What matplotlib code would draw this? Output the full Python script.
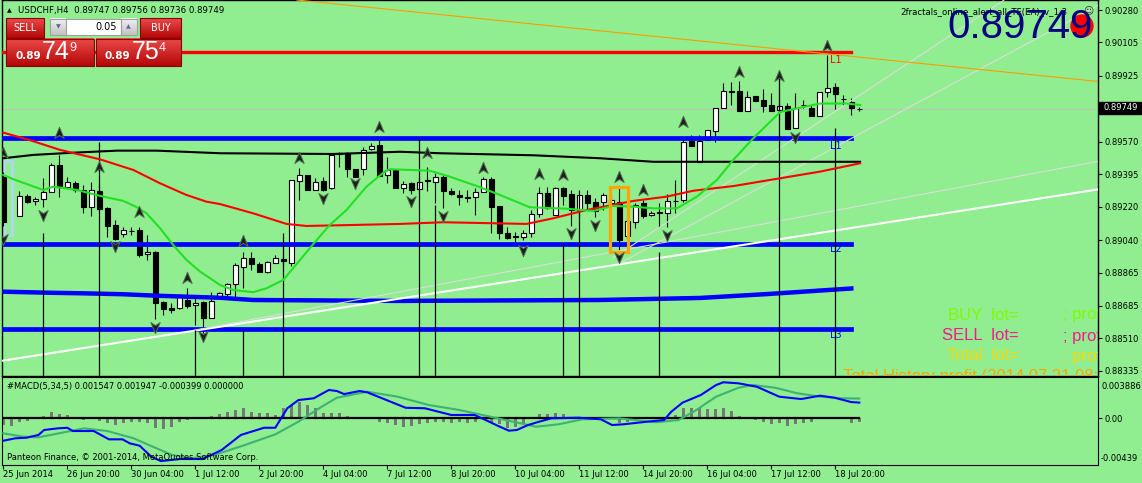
import numpy as np
import matplotlib.pyplot as plt
from matplotlib.patches import Rectangle, Circle
from matplotlib.path import Path
from matplotlib.colors import LinearSegmentedColormap

plt.rcParams['font.family'] = ['DejaVu Sans']

# ---------------- USDCHF H4 candles (bar 0 = 25 Jun 12:00) ----------------
nan = float('nan')
opens = [0.89382, nan, 0.89171, 0.89278, 0.89249, 0.89263, 0.89301, 0.89445, 0.89328, 0.89349,
         0.89310, 0.89220, 0.89306, 0.89215, 0.89121, 0.89074, 0.89091, 0.89094, 0.88963, 0.88976,
         0.88708, 0.88672, 0.88672, 0.88717, 0.88690, 0.88708, 0.88622, 0.88735, 0.88749, 0.88803,
         0.88897, 0.88942, 0.88911, 0.88870, 0.88918, 0.88940, 0.88915, 0.89360, 0.89391, 0.89310,
         0.89358, 0.89318, 0.89504, 0.89508, 0.89422, 0.89423, 0.89529, 0.89552, 0.89391, 0.89418,
         0.89319, 0.89349, 0.89314, 0.89362, 0.89355, 0.89382, 0.89306, 0.89283, 0.89274, 0.89271,
         0.89301, 0.89368, 0.89224, 0.89077, 0.89062, 0.89058, 0.89077, 0.89181, 0.89292, 0.89175,
         0.89319, 0.89288, 0.89202, 0.89283, 0.89244, 0.89247, 0.89240, 0.89247, 0.89062, 0.89139,
         0.89238, 0.89174, 0.89193, 0.89188, 0.89253, 0.89256, 0.89574, 0.89462, 0.89579, 0.89630,
         0.89750, 0.89841, 0.89844, 0.89736, 0.89817, 0.89795, 0.89768, 0.89741, 0.89764, 0.89643,
         0.89767, 0.89750, 0.89709, 0.89840, 0.89864, 0.89800, 0.89786, 0.89747]
highs = [0.89407, nan, 0.89305, 0.89288, 0.89274, 0.89373, 0.89454, 0.89499, 0.89382, 0.89358,
         0.89337, 0.89355, 0.89350, 0.89218, 0.89148, 0.89112, 0.89109, 0.89112, 0.89067, 0.88981,
         0.88712, 0.88699, 0.88749, 0.88780, 0.88739, 0.88712, 0.88762, 0.88760, 0.88810, 0.88915,
         0.88977, 0.88977, 0.88922, 0.88927, 0.88960, 0.88977, 0.89364, 0.89427, 0.89391, 0.89372,
         0.89378, 0.89499, 0.89515, 0.89515, 0.89423, 0.89543, 0.89562, 0.89579, 0.89488, 0.89418,
         0.89358, 0.89355, 0.89373, 0.89434, 0.89400, 0.89391, 0.89319, 0.89310, 0.89310, 0.89319,
         0.89378, 0.89378, 0.89224, 0.89112, 0.89085, 0.89094, 0.89202, 0.89328, 0.89328, 0.89328,
         0.89328, 0.89310, 0.89283, 0.89310, 0.89267, 0.89292, 0.89283, 0.89323, 0.89154, 0.89238,
         0.89256, 0.89197, 0.89238, 0.89288, 0.89364, 0.89597, 0.89606, 0.89606, 0.89633, 0.89750,
         0.89885, 0.89894, 0.89897, 0.89844, 0.89817, 0.89853, 0.89831, 0.89865, 0.89777, 0.89831,
         0.89795, 0.89768, 0.89840, 0.90038, 0.89885, 0.89822, 0.89804, 0.89756]
lows = [0.89116, nan, 0.89170, 0.89238, 0.89229, 0.89217, 0.89299, 0.89274, 0.89326, 0.89301,
        0.89188, 0.89170, 0.89208, 0.89058, 0.89043, 0.89058, 0.89067, 0.88950, 0.88933, 0.88613,
        0.88636, 0.88649, 0.88671, 0.88672, 0.88582, 0.88538, 0.88620, 0.88733, 0.88735, 0.88735,
        0.88780, 0.88879, 0.88868, 0.88861, 0.88916, 0.88906, 0.88902, 0.89256, 0.89310, 0.89310,
        0.89306, 0.89315, 0.89436, 0.89382, 0.89380, 0.89391, 0.89528, 0.89385, 0.89348, 0.89318,
        0.89292, 0.89288, 0.89310, 0.89302, 0.89238, 0.89211, 0.89283, 0.89229, 0.89247, 0.89175,
        0.89299, 0.89077, 0.89044, 0.89046, 0.89031, 0.89040, 0.89058, 0.89166, 0.89210, 0.89175,
        0.89229, 0.89116, 0.89166, 0.89202, 0.89166, 0.89202, 0.89229, 0.88987, 0.89051, 0.89104,
        0.89159, 0.89170, 0.89112, 0.89112, 0.89184, 0.89247, 0.89547, 0.89462, 0.89579, 0.89570,
        0.89750, 0.89768, 0.89736, 0.89736, 0.89790, 0.89732, 0.89736, 0.89714, 0.89637, 0.89643,
        0.89750, 0.89709, 0.89709, 0.89813, 0.89745, 0.89768, 0.89714, 0.89736]
closes = [0.89139, nan, 0.89278, 0.89245, 0.89261, 0.89299, 0.89445, 0.89328, 0.89351, 0.89310,
          0.89220, 0.89310, 0.89209, 0.89116, 0.89046, 0.89094, 0.89089, 0.88960, 0.88976, 0.88702,
          0.88667, 0.88663, 0.88735, 0.88685, 0.88702, 0.88618, 0.88712, 0.88753, 0.88803, 0.88904,
          0.88942, 0.88911, 0.88870, 0.88920, 0.88942, 0.88929, 0.89364, 0.89391, 0.89310, 0.89353,
          0.89310, 0.89499, 0.89511, 0.89422, 0.89382, 0.89526, 0.89547, 0.89385, 0.89418, 0.89318,
          0.89341, 0.89310, 0.89353, 0.89360, 0.89378, 0.89306, 0.89288, 0.89271, 0.89268, 0.89301,
          0.89368, 0.89220, 0.89080, 0.89050, 0.89057, 0.89077, 0.89181, 0.89292, 0.89211, 0.89319,
          0.89278, 0.89202, 0.89283, 0.89241, 0.89198, 0.89283, 0.89256, 0.89040, 0.89143, 0.89229,
          0.89170, 0.89188, 0.89184, 0.89252, 0.89251, 0.89570, 0.89547, 0.89574, 0.89633, 0.89750,
          0.89844, 0.89838, 0.89736, 0.89813, 0.89790, 0.89764, 0.89736, 0.89764, 0.89637, 0.89754,
          0.89769, 0.89709, 0.89840, 0.89861, 0.89827, 0.89798, 0.89750, 0.89749]

# moving averages read at some bars
fast_ma_bar = [0, 1.25, 5, 6.25, 9.2, 12.1, 15, 16.7, 17.9, 19.6, 21.25, 22.9, 24.6, 27.1, 28.75,
               31.25, 32.9, 35, 37.1, 38.75, 40.8, 42.9, 45.4, 47.5, 48.3, 53.3, 55.8, 59.2, 62.1,
               65.8, 70.4, 73.75, 76.25, 78.75, 81.25, 84.2, 86.7, 89.2, 91.25, 93.75, 97.1, 100,
               102.1, 105.4, 107.1]
fast_ma = [0.89391, 0.89368, 0.89310, 0.89328, 0.89310, 0.89278, 0.89251, 0.89217, 0.89184, 0.89104,
           0.89013, 0.88933, 0.88870, 0.88798, 0.88771, 0.88759, 0.88780, 0.88825, 0.88933, 0.89019,
           0.89121, 0.89202, 0.89328, 0.89403, 0.89422, 0.89414, 0.89382, 0.89331, 0.89283, 0.89217,
           0.89209, 0.89197, 0.89224, 0.89220, 0.89211, 0.89211, 0.89274, 0.89364, 0.89472, 0.89589,
           0.89730, 0.89757, 0.89776, 0.89776, 0.89768]
slow_ma_bar = [0, 3.3, 7.1, 12.1, 16.25, 19.6, 22.9, 25.4, 27.1, 31.25, 35.4, 37.9, 43.3, 49.6, 55,
               65.4, 68.7, 72.9, 78.75, 82.9, 86.25, 91.25, 97.1, 102.1, 107.1]
slow_ma = [0.89619, 0.89579, 0.89526, 0.89475, 0.89418, 0.89346, 0.89283, 0.89247, 0.89234, 0.89184,
           0.89127, 0.89116, 0.89121, 0.89127, 0.89136, 0.89127, 0.89157, 0.89202, 0.89251, 0.89274,
           0.89306, 0.89331, 0.89373, 0.89409, 0.89454]
long_ma_bar = [0, 3.75, 8.75, 14.2, 19.2, 27.1, 41.25, 49.6, 54.6, 66.25, 74.6, 81.25, 91.25, 107.1]
long_ma = [0.89481, 0.89499, 0.89511, 0.89522, 0.89522, 0.89508, 0.89504, 0.89516, 0.89508, 0.89497,
           0.89481, 0.89462, 0.89462, 0.89462]

# levels and lines
red_level = 0.90054
blue_levels = [0.89589, 0.89019, 0.88559]
curve_bar = [-0.2, 5.84, 9.96, 14.96, 19.2, 27.1, 31.2, 49.6, 74.6, 87.1, 95.5, 106]
curve_price = [0.88762, 0.88756, 0.88753, 0.88748, 0.88740, 0.88729, 0.88717, 0.88712, 0.88717,
               0.88728, 0.88749, 0.88779]
white_line = [-0.2, 0.88389, 136.84, 0.89313]
grey_lines = [[24.0, 0.88555, 136.84, 0.89464],
              [76.2, 0.88943, 125.1, 0.90334],
              [77.1, 0.88916, 138.1, 0.90334]]
orange_line = [36.7, 0.90334, 136.84, 0.89895]
bid = 0.89749

# fractals
up_bar = [0, 7, 12, 17, 23, 30, 37, 47, 53, 60, 67, 70, 77, 80, 85, 92, 97, 103]
up_price = [0.89508, 0.89619, 0.89432, 0.89193, 0.88834, 0.89037, 0.89481, 0.89648, 0.89512, 0.89427,
            0.89396, 0.89391, 0.89378, 0.89310, 0.89678, 0.89948, 0.89924, 0.90086]
down_bar = [0, 5, 14, 19, 25, 40, 44, 51, 55, 65, 71, 74, 77, 83, 99]
down_price = [0.89046, 0.89175, 0.89008, 0.88570, 0.88523, 0.89265, 0.89346, 0.89252, 0.89170, 0.88987,
              0.89080, 0.89121, 0.88947, 0.89067, 0.89597]
vline_bar = [5, 12, 24, 30, 35, 52, 54, 70, 72, 82, 97, 104]
vline_top = [0.89078, 0.89570, 0.88555, 0.88555, 0.89078, 0.89590, 0.89229, 0.89024, 0.89310, 0.88976,
             0.89948, 0.89643]

# MACD(5,34,5)
macd_bar = [0, 1.5, 2.9, 4.4, 5.1, 6.8, 8.0, 8.7, 11.3, 13.2, 14.9, 15.8, 17.05, 18.5, 19.7, 22.1, 24.9,
            27.3, 29.7, 32.6, 34.0, 35.5, 36.9, 38.8, 40.7, 41.7, 42.6, 44.55, 45.5, 48.4, 50.3, 52.7,
            56.0, 58.9, 60.3, 61.8, 63.2, 64.2, 65.6, 67.0, 68.5, 71.9, 74.7, 76.1, 77.5, 79.8, 82.6,
            83.5, 84.9, 87.2, 89.1, 90.0, 91.9, 94.2, 97.0, 99.75, 102.1, 103.9, 106.0, 107]
macd = [-0.00221, -0.00197, -0.00191, -0.00164, -0.00115, -0.00099, -0.00093, -0.00125, -0.00125, -0.00207,
        -0.00207, -0.00246, -0.00270, -0.00378, -0.00421, -0.00401, -0.00401, -0.00312, -0.00164, -0.00093,
        -0.00093, 0.00099, 0.00180, 0.00197, 0.00279, 0.00269, 0.00239, 0.00269, 0.00256, 0.00164,
        0.00104, 0.00099, 0.00033, 0.00033, -0.00017, -0.00073, -0.00122, -0.00115, -0.00066, -0.00033,
        0.0, 0.00006, -0.0001, -0.00066, -0.00059, -0.00039, -0.00017, 0.00065, 0.00154, 0.00230,
        0.00328, 0.00355, 0.00345, 0.00311, 0.00213, 0.00190, 0.00223, 0.00203, 0.00160, 0.00155]
signal_bar = [0, 2.5, 4.4, 6.3, 10.1, 13.0, 16.3, 18.7, 21.1, 23.5, 26.4, 30.2, 34.0, 36.9, 39.8, 41.7,
              45.5, 49.3, 53.2, 57.0, 60.3, 63.7, 66.6, 69.4, 72.4, 77.0, 81.6, 84.4, 86.3, 89.1, 91.9,
              93.7, 96.5, 99.3, 102.1, 104.8, 107]
signal = [-0.00148, -0.00181, -0.00187, -0.00158, -0.00099, -0.00125, -0.00197, -0.00280, -0.00361, -0.00394,
          -0.00361, -0.00263, -0.00158, -0.00033, 0.00114, 0.00203, 0.00262, 0.00213, 0.00131, 0.00082,
          0.00026, -0.00033, -0.00083, -0.00059, -0.0001, 0.0, -0.00039, -0.00017, 0.00065, 0.00213,
          0.00301, 0.00328, 0.00301, 0.00246, 0.00213, 0.00197, 0.00195]
hist = [-0.00066, -0.00072, -0.00033, -0.00027, 0.0, 0.00027, 0.00059, 0.00039, 0.00033, 0.00017,
        -0.00017, 0.0, -0.00027, -0.00049, -0.00066, -0.00049, -0.00033, -0.00039, -0.00049, -0.00092,
        -0.00108, -0.00082, -0.00033, -0.00017, 0.0, 0.0, 0.00023, 0.00039, 0.00066, 0.00082,
        0.00099, 0.00066, 0.00049, 0.00049, 0.00033, 0.00099, 0.00131, 0.00164, 0.00131, 0.00099,
        0.00049, 0.00049, 0.00049, 0.00027, 0.0, 0.0, 0.0, -0.00033, -0.00049, -0.00066,
        -0.00082, -0.00072, -0.00056, -0.00042, -0.00033, -0.00033, -0.00042, -0.00039, -0.00049, -0.00033,
        -0.00015, -0.00049, -0.00059, -0.00092, -0.00082, -0.00066, -0.0001, 0.00039, 0.00039, 0.00049,
        0.00039, 0.00017, 0.0, 0.0, -0.0001, 0.0, 0.0, -0.00049, -0.00033, -0.0002,
        0.0, 0.0, 0.0, 0.0, 0.00033, 0.00099, 0.00099, 0.00105, 0.00089, 0.00089,
        0.00099, 0.00072, 0.00023, 0.0, -0.00017, -0.00033, -0.00056, -0.00049, -0.00072, -0.00056,
        -0.00049, -0.00039, 0.0, 0.00017, 0.0, 0.0, -0.00042, -0.0004]

date_labels = ['25 Jun 2014', '26 Jun 20:00', '30 Jun 04:00', '1 Jul 12:00', '2 Jul 20:00',
               '4 Jul 04:00', '7 Jul 12:00', '8 Jul 20:00', '10 Jul 04:00', '11 Jul 12:00',
               '14 Jul 20:00', '16 Jul 04:00', '17 Jul 12:00', '18 Jul 20:00']
price_ticks = [0.90280, 0.90105, 0.89925, 0.89570, 0.89395, 0.89220, 0.89040, 0.88865, 0.88685,
               0.88510, 0.88335]

# ---------------- figure ----------------
W, H = 1142, 483
bg = '#90ee90'
fig = plt.figure(figsize=(W / 100, H / 100), dpi=100)
fig.patch.set_facecolor(bg)

xlim = (-0.16, 136.84)
ax = fig.add_axes([2 / W, 1 - 375.5 / H, 1096 / W, 375.5 / H])
ax.set_facecolor(bg)
ax.set_xlim(*xlim)
ax.set_ylim(0.88310, 0.90334)

o = np.array(opens)
hi = np.array(highs)
lo = np.array(lows)
c = np.array(closes)
bars = np.arange(len(o))
ok = ~np.isnan(o)
bull = ok & (c >= o)
bear = ok & (c < o)

ax.vlines(bars[ok], lo[ok], hi[ok], color='black', lw=0.8, zorder=2)
ax.bar(bars[bull], np.maximum(c - o, 0.000008)[bull], bottom=o[bull], width=0.56,
       color='white', edgecolor='black', lw=0.8, zorder=2.1)
ax.bar(bars[bear], (o - c)[bear], bottom=c[bear], width=0.56,
       color='black', edgecolor='black', lw=0.8, zorder=2.1)

# highlight boxes
ax.add_patch(Rectangle((0.15, 0.89067), 0.9, 0.00399, fill=False, ec='#add8e6', lw=2.3, zorder=1.5))

# bid line, levels, trend lines
ax.plot(xlim, [bid, bid], color='#c0c0c0', lw=0.8, zorder=1.8)
ax.plot([-0.2, 106], [red_level, red_level], color='#ff0000', lw=2.4, zorder=3)
for lv in blue_levels:
    ax.plot([-0.2, 106], [lv, lv], color='#0000ff', lw=3.4, zorder=3)
ax.plot(curve_bar, curve_price, color='#0000ff', lw=3.2, zorder=3)
ax.plot(white_line[0::2], white_line[1::2], color='white', lw=1.5, zorder=3.5)
for gl in grey_lines:
    ax.plot(gl[0::2], gl[1::2], color='#dcdcdc', lw=0.8, zorder=3.5)
ax.plot(orange_line[0::2], orange_line[1::2], color='#ff9a00', lw=0.8, zorder=3.5)
ax.vlines(vline_bar, 0.88310, vline_top, color='black', lw=0.9, zorder=3.6)

# moving averages
ax.plot(long_ma_bar, long_ma, color='black', lw=1.5, zorder=4)
ax.plot(slow_ma_bar, slow_ma, color='#ff0000', lw=1.5, zorder=4)
ax.plot(fast_ma_bar, fast_ma, color='#22e022', lw=1.5, zorder=4)

ax.add_patch(Rectangle((75.9, 0.88976), 2.2, 0.00348, fill=False, ec='#ffa500', lw=2.3, zorder=5))

# fractal arrows
arrow_up = Path([(0, 1), (0.75, -0.8), (0, -0.3), (-0.75, -0.8), (0, 1)],
                [Path.MOVETO, Path.LINETO, Path.LINETO, Path.LINETO, Path.CLOSEPOLY])
arrow_dn = Path([(0, -1), (0.75, 0.8), (0, 0.3), (-0.75, 0.8), (0, -1)],
                [Path.MOVETO, Path.LINETO, Path.LINETO, Path.LINETO, Path.CLOSEPOLY])
ax.plot(up_bar, up_price, ls='none', marker=arrow_up, ms=9, mfc='#1e1e1e', mec='#4f6f4f', mew=0.7, zorder=6)
ax.plot(down_bar, down_price, ls='none', marker=arrow_dn, ms=9, mfc='#1e1e1e', mec='#4f6f4f', mew=0.7, zorder=6)

# level labels
ax.text(103.3, 0.90009, 'L1', color='#ff0000', fontsize=7, va='center', zorder=7)
ax.text(103.3, 0.89547, 'L1', color='#0000ff', fontsize=7, va='center', zorder=7)
ax.text(103.3, 0.88992, 'L2', color='#0000ff', fontsize=7, va='center', zorder=7)
ax.text(103.3, 0.88528, 'L3', color='#0000ff', fontsize=7, va='center', zorder=7)

ax.set_xticks(np.arange(0, 105, 8))
ax.tick_params(axis='x', bottom=False, labelbottom=False)
ax.yaxis.tick_right()
ax.set_yticks(price_ticks)
ax.set_yticklabels(['%.5f' % p for p in price_ticks])
ax.tick_params(axis='y', direction='out', length=3, width=0.8, pad=2, labelsize=6)
for s in ax.spines.values():
    s.set_linewidth(1)

# ---------------- MACD panel ----------------
ax2 = fig.add_axes([2 / W, 1 - 464.5 / H, 1096 / W, 88 / H])
ax2.set_facecolor(bg)
ax2.set_xlim(*xlim)
ax2.set_ylim(-0.00455, 0.00412)
ax2.bar(bars, hist, width=0.4, color='#787878', zorder=2)
ax2.plot([0, 107], [0, 0], color='black', lw=1.6, zorder=3)
ax2.plot(signal_bar, signal, color='#3cb371', lw=1.5, zorder=4)
ax2.plot(macd_bar, macd, color='#0000ff', lw=1.5, zorder=5)
ax2.set_xticks(np.arange(0, 105, 8))
ax2.set_xticklabels(date_labels)
for t in ax2.get_xticklabels():
    t.set_ha('left')
ax2.tick_params(axis='x', direction='out', length=3, width=0.8, pad=1, labelsize=6)
ax2.yaxis.tick_right()
ax2.set_yticks([0.0])
ax2.set_yticklabels(['0.00'])
ax2.tick_params(axis='y', direction='out', length=3, width=0.8, pad=2, labelsize=6)

# ---------------- overlay (panel, headers) ----------------
ui = fig.add_axes([0, 0, 1, 1], zorder=10)
ui.set_autoscale_on(False)
ui.set_xlim(0, W)
ui.set_ylim(H, 0)
ui.axis('off')
ui.patch.set_alpha(0)

red_grad = LinearSegmentedColormap.from_list('rg', ['#ec4a4a', '#b40808'])
grey_grad = LinearSegmentedColormap.from_list('gg', ['#f2f2f2', '#c4c4c4'])
grad = np.linspace(0, 1, 32).reshape(-1, 1)


def box(x0, y0, x1, y1, cmap, edge):
    ui.imshow(grad, extent=(x0, x1, y1, y0), cmap=cmap, aspect='auto', origin='upper', zorder=11)
    ui.add_patch(Rectangle((x0, y0), x1 - x0, y1 - y0, fill=False, ec=edge, lw=0.8, zorder=12))


ui.text(7, 10.5, '▲', fontsize=4.5, va='center', zorder=12)
ui.text(18, 10.5, 'USDCHF,H4  0.89747 0.89756 0.89736 0.89749', fontsize=6.2, va='center', zorder=12)

box(6, 18, 44, 38, red_grad, '#8a0000')
ui.text(25, 28, 'SELL', color='white', fontsize=7, ha='center', va='center', zorder=13)
box(50, 18.5, 66, 35, grey_grad, '#a0a0a0')
ui.add_patch(Rectangle((66, 18.5), 54.5, 16.5, fc='white', ec='#a0a0a0', lw=0.8, zorder=12))
box(120.5, 18.5, 136.5, 35, grey_grad, '#a0a0a0')
ui.text(58, 26.5, '▼', color='#5a6aa0', fontsize=4.5, ha='center', va='center', zorder=13)
ui.text(128.5, 26.5, '▲', color='#5a6aa0', fontsize=4.5, ha='center', va='center', zorder=13)
ui.text(117, 27, '0.05', fontsize=7, ha='right', va='center', zorder=13)
box(140, 18, 181, 38, red_grad, '#8a0000')
ui.text(160.5, 28, 'BUY', color='white', fontsize=7, ha='center', va='center', zorder=13)

box(6, 38.5, 93.5, 66, red_grad, '#8a0000')
box(95.5, 38.5, 181, 66, red_grad, '#8a0000')
ui.text(28.5, 59, '0.89', color='white', fontsize=7.5, fontweight='bold', ha='center', va='baseline', zorder=13)
ui.text(56, 59, '74', color='white', fontsize=18, family='Liberation Sans', ha='center', va='baseline', zorder=13)
ui.text(73, 51, '9', color='white', fontsize=9, family='Liberation Sans', ha='center', va='baseline', zorder=13)
ui.text(117.5, 59, '0.89', color='white', fontsize=7.5, fontweight='bold', ha='center', va='baseline', zorder=13)
ui.text(145.5, 59, '75', color='white', fontsize=18, family='Liberation Sans', ha='center', va='baseline', zorder=13)
ui.text(162, 51, '4', color='white', fontsize=9, family='Liberation Sans', ha='center', va='baseline', zorder=13)

# EA header top right
ui.text(900, 11.5, '2fractals_online_alert_all_TF(EA)_v_1.3', fontsize=6.2, va='center', zorder=11)
ui.add_patch(Circle((1082, 26), 11, color='#ff0000', zorder=11.5))
ui.text(947, 38.3, '0.89749', color='#000080', fontsize=29, family='Liberation Sans', va='baseline', zorder=12)
ui.text(1088, 10.5, '☺', color='#303030', fontsize=7, ha='center', va='center', zorder=12)

# bid label on price scale
ui.add_patch(Rectangle((1099, 101.5), 42, 12, color='black', zorder=12))
ui.text(1103, 107.5, '0.89749', color='white', fontsize=6, va='center', zorder=13)

# MACD scale and texts
ui.text(1102, 386.5, '0.003886', fontsize=6, va='center', zorder=12)
ui.text(1101, 458.5, '-0.00439', fontsize=6, va='center', zorder=12)
ui.text(7, 386.5, '#MACD(5,34,5) 0.001547 0.001947 -0.000399 0.000000', fontsize=6, va='center', zorder=12)
ui.text(7, 457, 'Panteon Finance, © 2001-2014, MetaQuotes Software Corp.', fontsize=6, va='center', zorder=12)

# EA account lines, cut off by the price window edge
tr = ui.transData
kw = dict(transform=tr, fontsize=12, family='Liberation Sans', va='center', clip_on=True, zorder=8)
ax.text(1019, 315, 'BUY  lot=', color='#7cfc00', ha='right', **kw)
ax.text(1063, 315, '; prof', color='#7cfc00', ha='left', **kw)
ax.text(1019, 336, 'SELL  lot=', color='#ff1493', ha='right', **kw)
ax.text(1063, 336, '; prof', color='#ff1493', ha='left', **kw)
ax.text(1019, 356, 'Total  lot=', color='#ffd700', ha='right', **kw)
ax.text(1063, 356, '; prof', color='#ffd700', ha='left', **kw)
ax.text(843, 377, 'Total History profit (2014.07.21 08:5', color='#ffa500', ha='left', **kw)

ui.set_xlim(0, W)
ui.set_ylim(H, 0)
fig.savefig('out.png', dpi=100, facecolor=bg)
